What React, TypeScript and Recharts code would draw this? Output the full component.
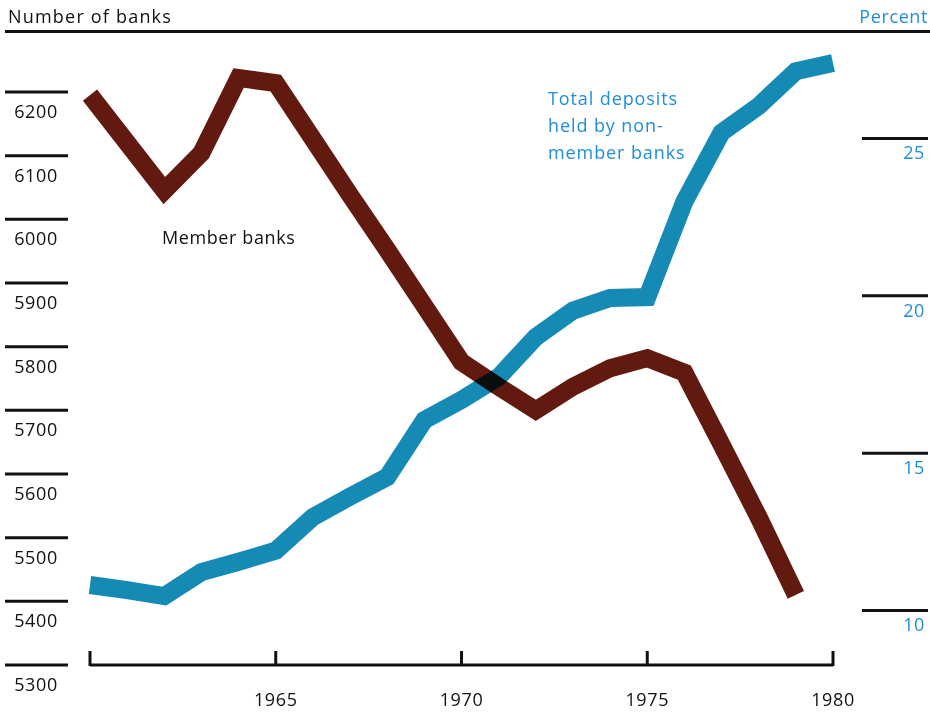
import { LineChart, Line, XAxis, YAxis } from "recharts";

// Annual figures, 1960-1980
const years = [
  1960, 1961, 1962, 1963, 1964, 1965, 1966, 1967, 1968, 1969, 1970,
  1971, 1972, 1973, 1974, 1975, 1976, 1977, 1978, 1979, 1980,
];
const memberBanks = [
  6195, 6120, 6045, 6104, 6222, 6214, 6126, 6038, 5952, 5864, 5776,
  5737, 5700, 5737, 5766, 5782, 5759, 5646, 5532, 5410, null,
];
const nonMemberDepositsPct = [
  10.81, 10.65, 10.46, 11.22, 11.55, 11.9, 12.97, 13.62, 14.24, 16.05, 16.69,
  17.42, 18.69, 19.53, 19.93, 19.96, 23.0, 25.19, 26.03, 27.14, 27.4,
];

const bankTicks = [5300, 5400, 5500, 5600, 5700, 5800, 5900, 6000, 6100, 6200];
const pctTicks = [10, 15, 20, 25];
const yearTicks = [1960, 1965, 1970, 1975, 1980];

const data = years.map((year, i) => ({
  year,
  banks: memberBanks[i],
  pct: nonMemberDepositsPct[i],
}));

const FONT = "'Open Sans', Lato, sans-serif";
const FS = 18;
const LS = 0.6;
const BROWN = "#621a10";
const TEAL = "#158ab4";
const BLUE_TEXT = "#1f8ddb";
const INK = "#111";

function BankTick({ y, payload }: any) {
  return (
    <g>
      <line x1={5} x2={68} y1={y} y2={y} stroke={INK} strokeWidth={3} />
      <text x={36} y={y + 26} textAnchor="middle" fontSize={FS} letterSpacing={LS} fill={INK} fontFamily={FONT}>
        {payload.value}
      </text>
    </g>
  );
}

function PctTick({ y, payload }: any) {
  return (
    <g>
      <line x1={862} x2={928} y1={y} y2={y} stroke={INK} strokeWidth={3} />
      <text x={925} y={y + 21} textAnchor="end" fontSize={FS} letterSpacing={LS} fill={BLUE_TEXT} fontFamily={FONT}>
        {payload.value}
      </text>
    </g>
  );
}

function YearTick({ x, y, payload }: any) {
  return (
    <g>
      <line x1={x} x2={x} y1={y - 14} y2={y + 1} stroke={INK} strokeWidth={3} />
      {payload.value !== 1960 && (
        <text x={x} y={y + 41} textAnchor="middle" fontSize={FS} letterSpacing={LS} fill={INK} fontFamily={FONT}>
          {payload.value}
        </text>
      )}
    </g>
  );
}

const label = (extra: React.CSSProperties): React.CSSProperties => ({
  position: "absolute",
  fontFamily: FONT,
  fontSize: FS,
  letterSpacing: LS,
  lineHeight: "22px",
  whiteSpace: "nowrap",
  ...extra,
});

export default function App() {
  return (
    <div style={{ position: "relative", width: 930, height: 715, background: "#fff" }}>
      <style>{`body{margin:0} .recharts-line-curve{mix-blend-mode:multiply}`}</style>
      <LineChart
        width={930}
        height={715}
        data={data}
        margin={{ top: 40, right: 0, bottom: 0, left: 0 }}
      >
        <XAxis
          dataKey="year"
          type="number"
          domain={[1960, 1980]}
          ticks={yearTicks}
          height={50}
          tickSize={0}
          tickMargin={0}
          tickLine={false}
          axisLine={{ stroke: INK, strokeWidth: 3 }}
          tick={<YearTick />}
        />
        <YAxis
          yAxisId="banks"
          orientation="left"
          width={90}
          domain={[5300, 6281.6]}
          allowDataOverflow
          ticks={bankTicks}
          axisLine={false}
          tickLine={false}
          tick={<BankTick />}
        />
        <YAxis
          yAxisId="pct"
          orientation="right"
          width={97}
          domain={[8.268, 28.13]}
          allowDataOverflow
          ticks={pctTicks}
          axisLine={false}
          tickLine={false}
          tick={<PctTick />}
        />
        <Line
          yAxisId="pct"
          dataKey="pct"
          type="linear"
          stroke={TEAL}
          strokeWidth={18}
          strokeLinejoin="miter"
          dot={false}
          isAnimationActive={false}
        />
        <Line
          yAxisId="banks"
          dataKey="banks"
          type="linear"
          stroke={BROWN}
          strokeWidth={18}
          strokeLinejoin="miter"
          dot={false}
          isAnimationActive={false}
        />
      </LineChart>

      <div style={{ position: "absolute", left: 5, top: 30, width: 925, height: 3, background: INK }} />
      <div style={label({ left: 8, top: 5, color: INK, letterSpacing: 1.2 })}>Number of banks</div>
      <div style={label({ right: 2, top: 5, color: BLUE_TEXT })}>Percent</div>
      <div style={label({ left: 162, top: 226, color: INK })}>Member banks</div>
      <div style={label({ left: 548, top: 85, color: BLUE_TEXT, lineHeight: "27px", letterSpacing: 0.9 })}>
        Total deposits
        <br />
        held by non-
        <br />
        member banks
      </div>
    </div>
  );
}
